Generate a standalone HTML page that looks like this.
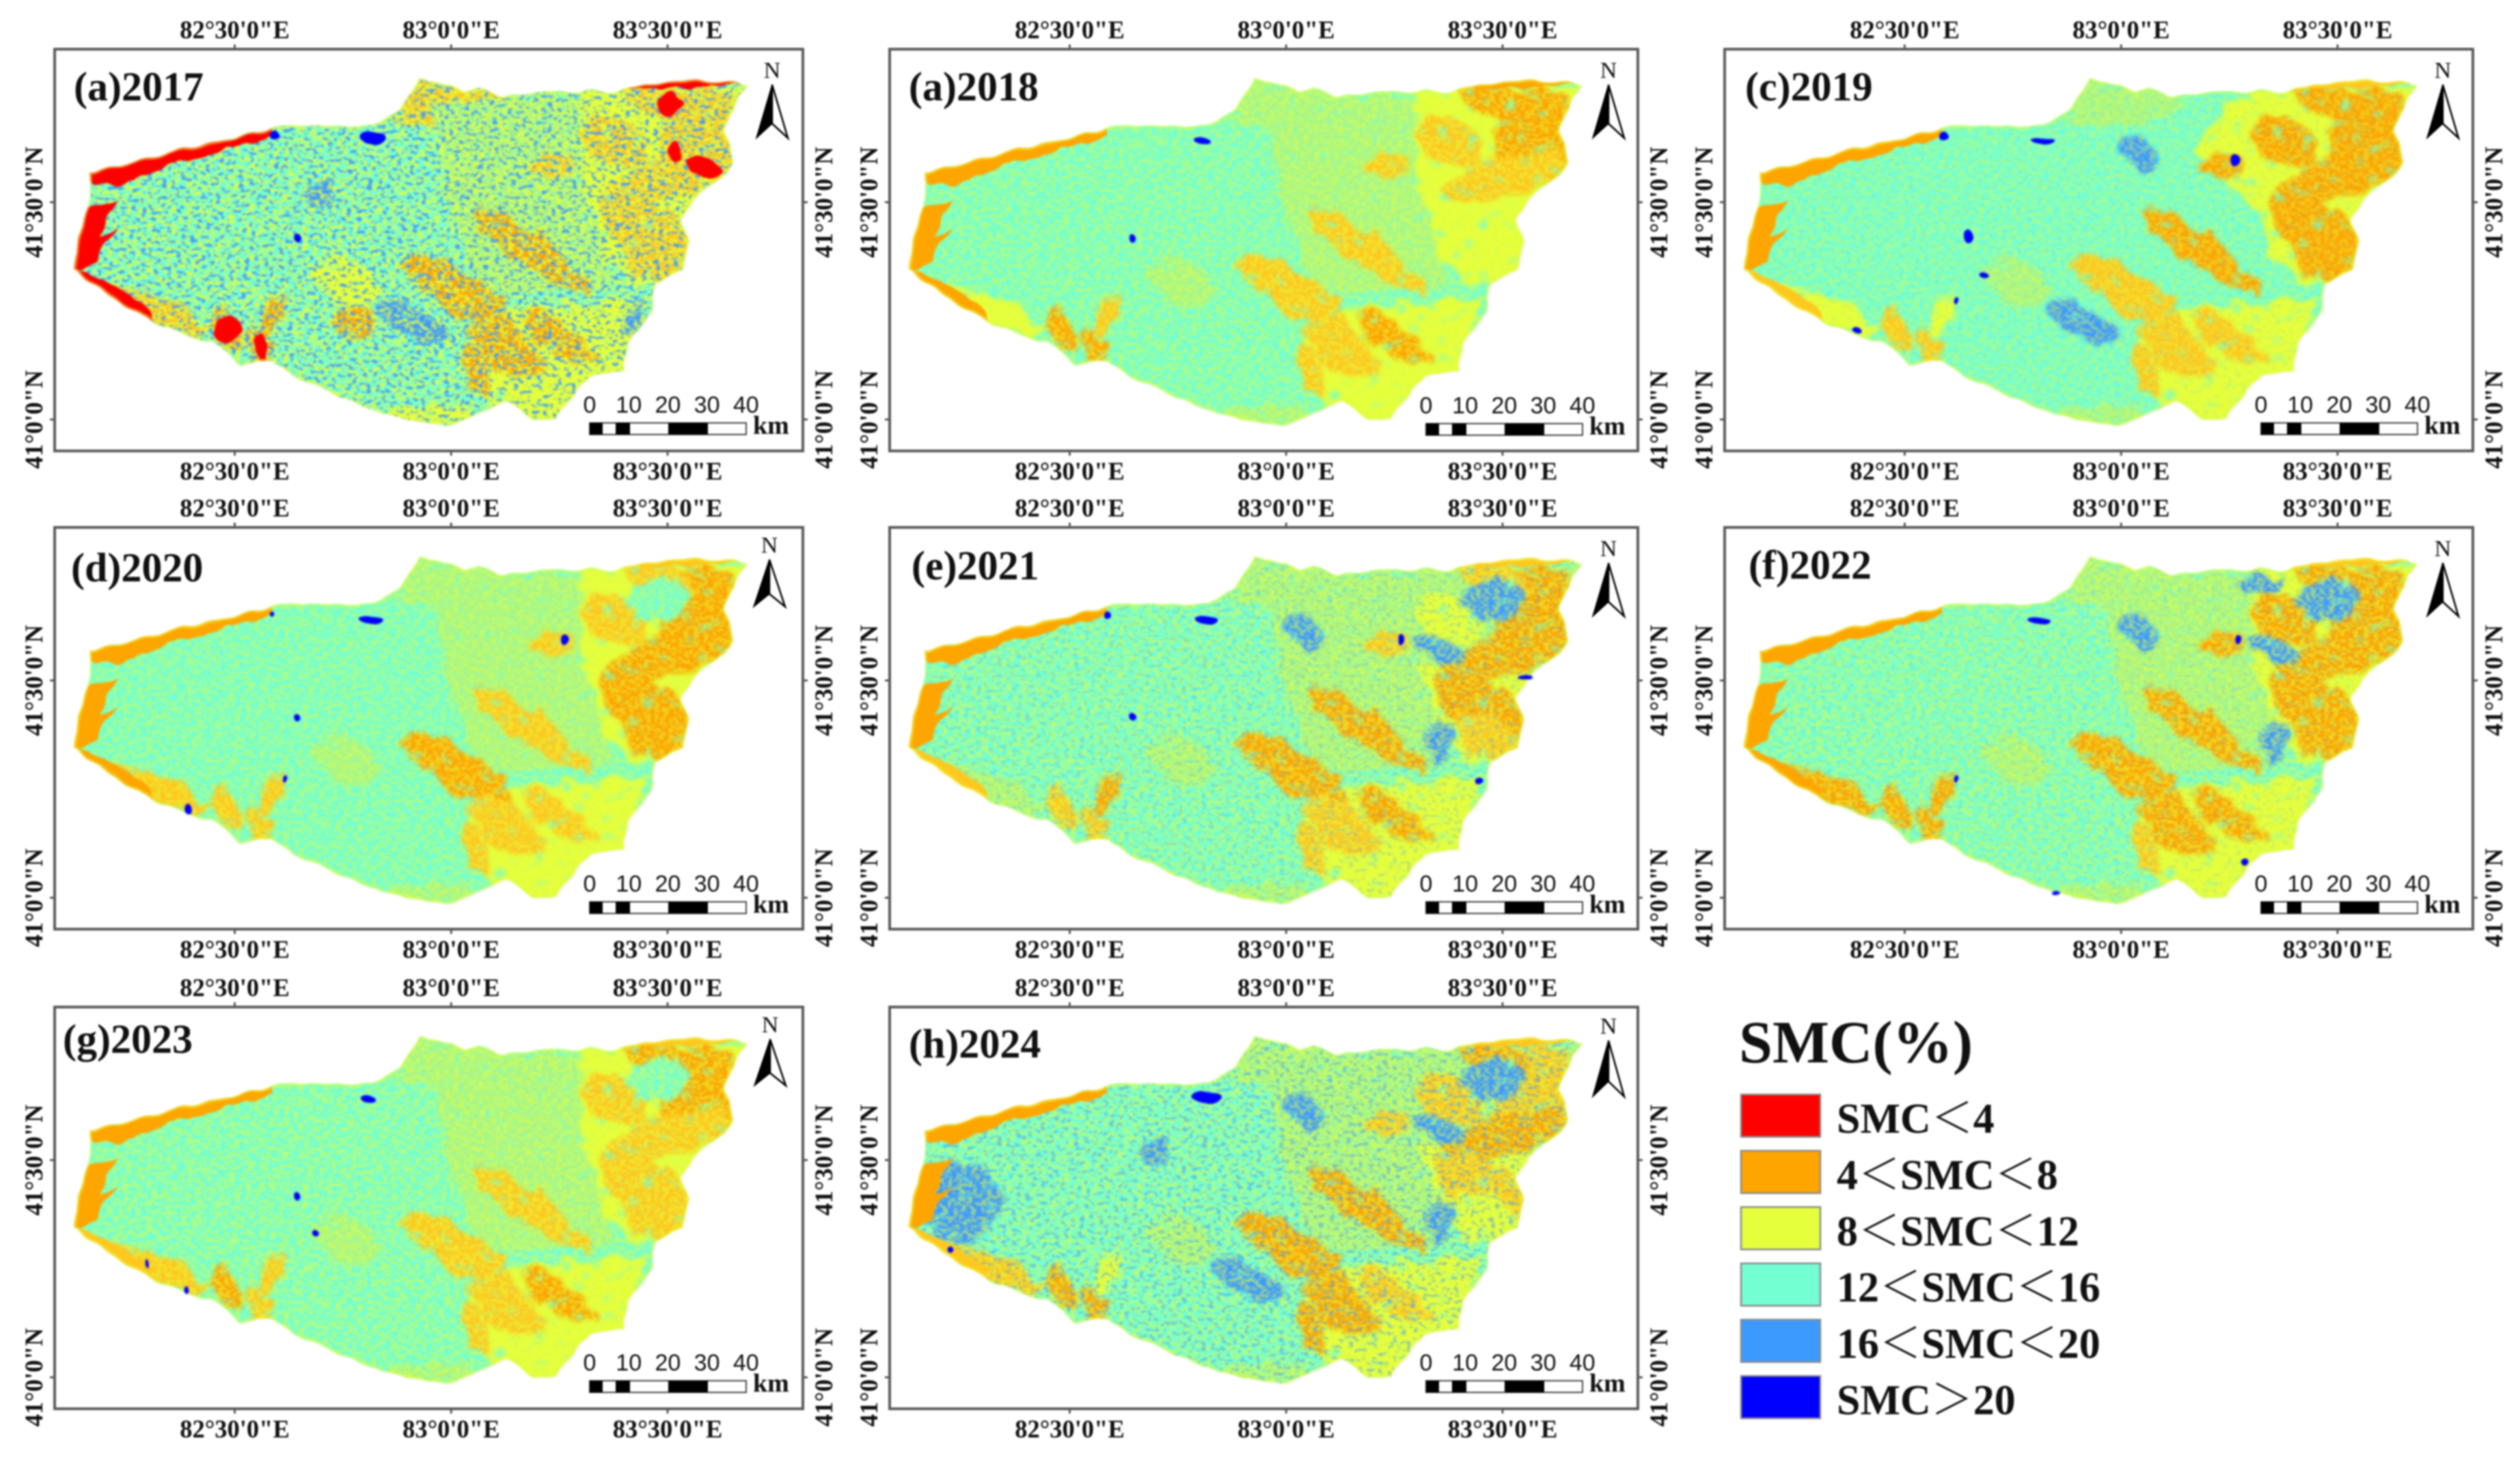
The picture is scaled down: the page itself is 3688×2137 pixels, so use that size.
<!DOCTYPE html>
<html lang="en">
<head>
<meta charset="utf-8">
<title>SMC maps 2017-2024</title>
<style>
html,body{margin:0;padding:0;background:#fff;width:3688px;height:2137px;overflow:hidden}
#figure{display:block;width:3688px;height:2137px}
text{font-family:"Liberation Serif","Noto Serif CJK SC",serif;fill:#111}
</style>
</head>
<body>
<svg id="figure" xmlns="http://www.w3.org/2000/svg" width="3688" height="2137" viewBox="0 0 3688 2137">
<defs>
<filter id="soft" filterUnits="userSpaceOnUse" x="-110" y="-90" width="1330" height="800" color-interpolation-filters="sRGB">
<feGaussianBlur stdDeviation="1.4"/>
</filter>
<filter id="softLegend" filterUnits="userSpaceOnUse" x="2500" y="1450" width="700" height="660" color-interpolation-filters="sRGB">
<feGaussianBlur stdDeviation="1.4"/>
</filter>
<filter id="edge" filterUnits="userSpaceOnUse" x="20" y="30" width="1005" height="550" color-interpolation-filters="sRGB">
<feTurbulence type="fractalNoise" baseFrequency="0.035" numOctaves="1" seed="5" result="n"/>
<feDisplacementMap in="SourceGraphic" in2="n" scale="12" xChannelSelector="R" yChannelSelector="G"/>
<feGaussianBlur stdDeviation="1.7"/>
</filter>
<filter id="rough" filterUnits="userSpaceOnUse" x="20" y="30" width="1005" height="550" color-interpolation-filters="sRGB">
<feTurbulence type="fractalNoise" baseFrequency="0.03" numOctaves="2" seed="9" result="n"/>
<feDisplacementMap in="SourceGraphic" in2="n" scale="34" xChannelSelector="R" yChannelSelector="G" result="d"/>
<feTurbulence type="fractalNoise" baseFrequency="0.05 0.08" numOctaves="1" seed="21"/>
<feColorMatrix type="matrix" values="0 0 0 0 0  0 0 0 0 0  0 0 0 0 0  6 0 0 0 -1.4" result="m"/>
<feComposite in="d" in2="m" operator="in"/>
<feGaussianBlur stdDeviation="3"/>
</filter>
<filter id="firm" filterUnits="userSpaceOnUse" x="20" y="30" width="1005" height="550" color-interpolation-filters="sRGB">
<feTurbulence type="fractalNoise" baseFrequency="0.05" numOctaves="1" seed="11" result="n"/>
<feDisplacementMap in="SourceGraphic" in2="n" scale="14" xChannelSelector="R" yChannelSelector="G"/>
</filter>
<filter id="speckleYellow" filterUnits="userSpaceOnUse" x="20" y="30" width="1005" height="550" color-interpolation-filters="sRGB">
<feTurbulence type="fractalNoise" baseFrequency="0.14 0.2" numOctaves="2" seed="3" stitchTiles="stitch" x="20" y="30" width="300" height="300"/>
<feColorMatrix type="matrix" values="0 0 0 0 0.9  0 0 0 0 1  0 0 0 0 0.24  7 0 0 0 -3.1" x="20" y="30" width="300" height="300"/>
<feTile x="20" y="30" width="1005" height="550"/>
</filter>
<filter id="speckleBlue" filterUnits="userSpaceOnUse" x="20" y="30" width="1005" height="550" color-interpolation-filters="sRGB">
<feTurbulence type="fractalNoise" baseFrequency="0.14 0.2" numOctaves="2" seed="14" stitchTiles="stitch" x="20" y="30" width="300" height="300"/>
<feColorMatrix type="matrix" values="0 0 0 0 0.24  0 0 0 0 0.6  0 0 0 0 1  0 9 0 0 -5.0" x="20" y="30" width="300" height="300"/>
<feTile x="20" y="30" width="1005" height="550"/>
</filter>
<clipPath id="basinClip"><polygon id="basinClipShape" points="0,0"/></clipPath>
</defs>
</svg>
<script>
// Axis ticks
const lonTicks = [82.5, 83, 83.5];
const lonTickLabels = ["82°30'0\"E", "83°0'0\"E", "83°30'0\"E"];
const latTicks = [41.5, 41];
const latTickLabels = ["41°30'0\"N", "41°0'0\"N"];
const scaleLabels = ["0", "10", "20", "30", "40"];

// Study-area boundary, lon/lat pairs
const basinOutline = [[82.165,41.570],[82.587,41.670],[82.637,41.678],[82.713,41.675],[82.788,41.673],[82.839,41.688],[82.883,41.717],[82.895,41.742],[82.927,41.785],[82.952,41.774],[83.003,41.771],[83.028,41.756],[83.065,41.764],[83.116,41.745],[83.217,41.753],[83.317,41.755],[83.380,41.756],[83.443,41.771],[83.569,41.784],[83.683,41.772],[83.657,41.720],[83.632,41.662],[83.651,41.590],[83.620,41.554],[83.557,41.504],[83.531,41.460],[83.550,41.410],[83.531,41.345],[83.469,41.309],[83.462,41.244],[83.406,41.171],[83.399,41.114],[83.317,41.099],[83.267,41.034],[83.242,41.002],[83.191,40.998],[83.128,41.042],[83.065,41.013],[82.990,40.984],[82.902,40.998],[82.839,41.013],[82.738,41.056],[82.637,41.099],[82.587,41.135],[82.511,41.128],[82.448,41.179],[82.373,41.197],[82.285,41.236],[82.196,41.294],[82.127,41.345],[82.140,41.417],[82.159,41.489],[82.165,41.532]];

// Geographic zones: polygons as lon/lat, ellipses as lon, lat, radii in degrees, rotation
const zoneNames = ["ne-plain","east-plain","se-plain","north-peak","sw-rim","south-rim","east-central","mid-fan","north-strip","west-strip","sw-strip","south-patch-a","south-patch-b","south-patch-c","ne-core","ne-upper","ne-lower","ne-mid","lake-area","east-mass","east-lower","band-upper","band-lower","band-se","band-sse","band-south","mid-orange","wet-central","wet-upper","wet-west","ne-pocket","wet-east","wet-ne","wet-north","wet-mid","wet-se","dry-ne-a","dry-ne-b","dry-ne-c","dry-south-a","dry-south-b","ne-rim"];
const zoneShapes = [
 {p:[[83.267,41.749],[83.683,41.778],[83.651,41.583],[83.557,41.504],[83.267,41.532],[83.166,41.619]]},
 {p:[[83.280,41.532],[83.569,41.518],[83.557,41.352],[83.469,41.301],[83.343,41.374]]},
 {p:[[83.053,41.244],[83.456,41.280],[83.418,41.114],[83.254,40.998],[83.166,41.005],[83.091,41.027],[83.040,41.135]]},
 {p:[[82.860,41.690],[82.927,41.790],[83.116,41.750],[83.153,41.715],[82.952,41.660]]},
 {p:[[82.196,41.320],[82.373,41.270],[82.448,41.205],[82.385,41.190],[82.285,41.236]]},
 {e:[82.952,41.005,0.10,0.03,0]},
 {p:[[82.95,41.72],[83.30,41.75],[83.30,41.52],[83.38,41.30],[83.08,41.30],[83.00,41.45]]},
 {e:[82.763,41.316,0.08,0.05,30]},
 {solid:1,p:[[82.159,41.572],[82.373,41.626],[82.587,41.671],[82.587,41.652],[82.461,41.616],[82.335,41.582],[82.270,41.545],[82.165,41.540]]},
 {solid:1,p:[[82.165,41.489],[82.234,41.504],[82.200,41.460],[82.190,41.417],[82.228,41.435],[82.178,41.366],[82.146,41.341],[82.115,41.345],[82.134,41.446]]},
 {solid:1,p:[[82.140,41.341],[82.196,41.323],[82.285,41.265],[82.316,41.222],[82.259,41.233],[82.184,41.291],[82.121,41.338]]},
 {e:[82.480,41.204,0.055,0.03,60]},
 {e:[82.555,41.164,0.05,0.025,65]},
 {e:[82.587,41.244,0.05,0.025,-70]},
 {e:[83.582,41.655,0.10,0.11,0]},
 {e:[83.481,41.735,0.09,0.04,25]},
 {e:[83.506,41.561,0.14,0.045,-15]},
 {e:[83.380,41.641,0.08,0.05,30]},
 {e:[83.229,41.583,0.045,0.03,0]},
 {e:[83.456,41.439,0.13,0.06,30]},
 {e:[83.469,41.366,0.09,0.045,40]},
 {e:[83.179,41.392,0.16,0.04,35]},
 {e:[83.015,41.294,0.15,0.05,30]},
 {e:[83.254,41.182,0.10,0.035,35]},
 {e:[83.128,41.164,0.10,0.05,40]},
 {e:[83.059,41.106,0.07,0.025,70]},
 {e:[82.776,41.222,0.05,0.04,0]},
 {e:[82.91,41.225,0.08,0.04,25]},
 {e:[83.040,41.612,0.05,0.025,45]},
 {e:[82.247,41.403,0.10,0.09,0]},
 {e:[83.481,41.684,0.07,0.055,0]},
 {e:[83.355,41.359,0.03,0.06,0]},
 {e:[83.343,41.576,0.06,0.03,30]},
 {e:[83.317,41.720,0.045,0.025,0]},
 {e:[82.700,41.518,0.04,0.03,0]},
 {e:[83.431,41.229,0.025,0.05,0]},
 {solid:1,e:[83.506,41.727,0.03,0.025,0]},
 {solid:1,e:[83.582,41.583,0.045,0.022,20]},
 {solid:1,e:[83.519,41.612,0.016,0.024,0]},
 {solid:1,e:[82.486,41.208,0.03,0.035,45]},
 {solid:1,e:[82.562,41.164,0.016,0.035,0]},
 {solid:1,e:[83.54,41.775,0.15,0.012,-3]}
];

// Dominant class per zone, per year: 0 red,1 orange,2 yellow,3 aqua,4 light blue,5 blue,6 aqua-yellow blend,7 orange-yellow blend,-1 unchanged
const classes2017 = [2,2,2,7,7,2,6,2, 0,0,0,1,1,1, 7,7,7,7,7, 7,7,1,1,1,1,1,1, 4,-1,-1,-1,-1,-1,-1,4,4, 0,0,0,0,0, 0];
const classes2018 = [2,2,2,6,2,6,6,6, 1,1,1,1,1,7, 1,1,7,7,7, -1,-1,7,7,1,7,7,-1, -1,-1,-1,-1,-1,-1,-1,-1,-1, -1,-1,-1,-1,-1, 1];
const classes2019 = [2,2,2,6,2,6,-1,6, 1,1,7,7,7,2, 1,1,1,1,1, 1,1,1,7,7,7,7,-1, 4,4,-1,-1,-1,-1,-1,-1,-1, -1,-1,-1,-1,-1, 7];
const classes2020 = [2,2,2,6,7,6,6,6, 1,1,1,7,7,7, 1,7,1,7,7, 1,1,7,1,7,7,7,-1, -1,-1,-1,3,-1,-1,-1,-1,-1, -1,-1,-1,-1,-1, 7];
const classes2021 = [6,2,2,6,6,6,6,6, 1,1,7,7,7,1, 1,7,1,2,7, 1,7,1,1,1,7,7,-1, -1,4,-1,4,4,4,-1,-1,-1, -1,-1,-1,-1,-1, 7];
const classes2022 = [2,2,2,6,1,6,6,6, 1,1,1,1,1,1, 1,1,1,1,1, 1,1,1,1,1,1,7,-1, -1,4,-1,4,4,4,4,-1,-1, -1,-1,-1,-1,-1, 7];
const classes2023 = [2,2,2,6,7,6,6,6, 1,1,7,1,7,7, 1,1,7,7,6, 7,7,7,7,1,7,7,-1, -1,-1,-1,3,-1,-1,-1,-1,-1, -1,-1,-1,-1,-1, 7];
const classes2024 = [6,2,2,6,7,6,6,6, 1,1,7,1,1,2, 7,1,1,7,7, 7,2,1,1,7,1,1,-1, 4,4,4,4,4,4,-1,4,-1, -1,-1,-1,-1,-1, 7];

// Water bodies (SMC>20) per year: lon, lat, radii in degrees
const lakes2017 = [[82.820,41.650,0.030,0.015],[82.593,41.654,0.012,0.010],[82.647,41.418,0.008,0.008]];
const lakes2018 = [[82.805,41.643,0.018,0.008],[82.647,41.417,0.007,0.008]];
const lakes2019 = [[82.591,41.652,0.012,0.010],[82.819,41.643,0.028,0.007],[82.649,41.421,0.010,0.013],[82.685,41.334,0.009,0.006],[83.262,41.597,0.010,0.015],[82.389,41.205,0.012,0.007],[82.618,41.273,0.005,0.008]];
const lakes2020 = [[82.814,41.641,0.028,0.009],[82.646,41.415,0.007,0.007],[83.261,41.594,0.008,0.013],[82.392,41.204,0.009,0.012],[82.615,41.273,0.005,0.008],[82.587,41.653,0.006,0.006]];
const lakes2021 = [[82.588,41.650,0.009,0.009],[82.815,41.641,0.026,0.010],[82.647,41.417,0.008,0.007],[83.264,41.594,0.006,0.014],[83.554,41.509,0.018,0.006],[83.445,41.267,0.009,0.007]];
const lakes2022 = [[82.809,41.639,0.026,0.008],[83.268,41.594,0.006,0.012],[83.287,41.081,0.009,0.008],[82.618,41.273,0.005,0.008],[82.851,41.009,0.010,0.004]];
const lakes2023 = [[82.807,41.642,0.016,0.009],[82.646,41.417,0.007,0.008],[82.388,41.200,0.006,0.009],[82.297,41.258,0.004,0.012],[82.688,41.334,0.006,0.007]];
const lakes2024 = [[82.817,41.646,0.035,0.014],[82.225,41.292,0.006,0.008]];

// Estimated speckle strength per year (order 2017..2024)
const yellowSpeckle = [0.8, 0.5, 0.4, 0.48, 0.55, 0.55, 0.55, 0.55];
const blueSpeckle = [0.95, 0.03, 0.10, 0.04, 0.28, 0.16, 0.05, 0.55];

// Legend
const legendLabels = ["SMC＜4", "4＜SMC＜8", "8＜SMC＜12", "12＜SMC＜16", "16＜SMC＜20", "SMC＞20"];
const legendClasses = [0, 1, 2, 3, 4, 5];

const palette = ["#ff0000", "#ffa500", "#e6ff3c", "#73ffd2", "#3c9aff", "#0000ff", "#a5f78c", "#ffc81e"];

const SVG_NS = "http://www.w3.org/2000/svg";
const root = document.getElementById("figure");
const FRAME_W = 1095, FRAME_H = 588;

function lonX(lon) { return 263.5 + (lon - 82.5) * 633.5; }
function latY(lat) { return 224 + (41.5 - lat) * 636; }
function pointsOf(list) { return list.map(function (q) { return lonX(q[0]).toFixed(1) + "," + latY(q[1]).toFixed(1); }).join(" "); }

function make(tag, attrs, parent) {
  const node = document.createElementNS(SVG_NS, tag);
  for (const key in attrs) node.setAttribute(key, attrs[key]);
  parent.appendChild(node);
  return node;
}
function label(str, x, y, size, weight, anchor, parent, rotate) {
  const attrs = { x: x, y: y, "font-size": size, "font-weight": weight, "text-anchor": anchor };
  if (rotate) attrs.transform = "rotate(" + rotate + " " + x + " " + y + ")";
  const node = make("text", attrs, parent);
  node.textContent = str;
  return node;
}

document.getElementById("basinClipShape").setAttribute("points", pointsOf(basinOutline));

function drawPanel(o) {
  const g = make("g", { transform: "translate(" + o.x + "," + o.y + ")" }, root);
  
  

  // Map raster approximation
  const edgeGroup = make("g", { filter: "url(#edge)" }, g);
  
  
  const clipped = make("g", { "clip-path": "url(#basinClip)" }, edgeGroup);
  make("rect", { x: 0, y: 0, width: FRAME_W, height: FRAME_H, fill: palette[3] }, clipped);

  const patchyGroup = make("g", { filter: "url(#rough)" }, clipped);
  make("rect", { x: 0, y: 0, width: FRAME_W, height: FRAME_H, fill: "#fff", filter: "url(#speckleYellow)", opacity: o.yellow }, clipped);
  make("rect", { x: 0, y: 0, width: FRAME_W, height: FRAME_H, fill: "#fff", filter: "url(#speckleBlue)", opacity: o.blue }, clipped);
  const firmGroup = make("g", { filter: "url(#firm)" }, clipped);
  o.classes.forEach(function (cls, i) {
    if (cls < 0) return;
    const shape = zoneShapes[i];
    const zoneGroup = shape.solid ? firmGroup : patchyGroup;
    let mark;
    if (shape.p) {
      mark = make("polygon", { points: pointsOf(shape.p), fill: palette[cls] }, zoneGroup);
    } else {
      const cx = lonX(shape.e[0]), cy = latY(shape.e[1]);
      mark = make("ellipse", { cx: cx, cy: cy, rx: shape.e[2] * 633.5, ry: shape.e[3] * 636, fill: palette[cls], transform: "rotate(" + shape.e[4] + " " + cx + " " + cy + ")" }, zoneGroup);
    }
    
    
  });
  make("polygon", { points: pointsOf(basinOutline), fill: "none", stroke: palette[2], "stroke-width": 6, opacity: 0.5 }, clipped);

  o.lakes.forEach(function (l) {
    const lake = make("ellipse", { cx: lonX(l[0]), cy: latY(l[1]), rx: l[2] * 633.5, ry: l[3] * 636, fill: palette[5] }, edgeGroup);
    
    
  });

  // Frame, ticks, labels, arrow and scale bar share one soft layer
  const ink = make("g", { filter: "url(#soft)" }, g);
  
  

  const frame = make("rect", { x: 0, y: 0, width: FRAME_W, height: FRAME_H, fill: "none", stroke: "#5a5a5a", "stroke-width": 4 }, ink);
  
  

  // Longitude ticks, both sides
  lonTicks.forEach(function (lon, i) {
    const x = lonX(lon);
    make("line", { x1: x, x2: x, y1: -7, y2: 0, stroke: "#5a5a5a", "stroke-width": 3 }, ink);
    make("line", { x1: x, x2: x, y1: FRAME_H, y2: FRAME_H + 7, stroke: "#5a5a5a", "stroke-width": 3 }, ink);
    const top = label(lonTickLabels[i], x, -16, 36.5, "bold", "middle", ink);
    
    
    const bottom = label(lonTickLabels[i], x, FRAME_H + 42, 36.5, "bold", "middle", ink);
    
    
  });
  // Latitude ticks, both sides
  latTicks.forEach(function (lat, i) {
    const y = latY(lat);
    make("line", { x1: -7, x2: 0, y1: y, y2: y, stroke: "#5a5a5a", "stroke-width": 3 }, ink);
    make("line", { x1: FRAME_W, x2: FRAME_W + 7, y1: y, y2: y, stroke: "#5a5a5a", "stroke-width": 3 }, ink);
    const left = label(latTickLabels[i], -18, y, 36.5, "bold", "middle", ink, -90);
    
    
    const right = label(latTickLabels[i], FRAME_W + 43, y, 36.5, "bold", "middle", ink, -90);
    
    
  });

  // Panel title
  const title = label(o.title, o.titleX, o.titleY, 60, "bold", "start", ink);
  
  

  // North arrow
  const north = make("g", {}, ink);
  
  
  const nMark = label("N", o.arrowX, o.arrowTop - 10, 34, "normal", "middle", north);
  
  
  const notch = o.arrowBot - (o.arrowBot - o.arrowTop) * 0.27;
  make("polygon", { points: o.arrowX + "," + o.arrowTop + " " + (o.arrowX - 23) + "," + o.arrowBot + " " + o.arrowX + "," + notch, fill: "#000", stroke: "#000", "stroke-width": 1.5 }, north);
  make("polygon", { points: o.arrowX + "," + o.arrowTop + " " + (o.arrowX + 23) + "," + o.arrowBot + " " + o.arrowX + "," + notch, fill: "#fff", stroke: "#000", "stroke-width": 2.5 }, north);

  // Scale bar
  const bar = make("g", { transform: "translate(" + o.barX + "," + o.barY + ")" }, ink);
  
  
  make("rect", { x: 0, y: 0, width: 229, height: 17, fill: "#fff", stroke: "#444", "stroke-width": 2 }, bar);
  make("rect", { x: 0, y: 0, width: 19, height: 17, fill: "#000" }, bar);
  make("rect", { x: 38, y: 0, width: 21, height: 17, fill: "#000" }, bar);
  make("rect", { x: 115, y: 0, width: 58, height: 17, fill: "#000" }, bar);
  scaleLabels.forEach(function (s, i) {
    const t = make("text", { x: i * 57.2, y: -15, "font-size": 34, "text-anchor": "middle", style: 'font-family:"Liberation Sans",sans-serif' }, bar);
    t.textContent = s;
    
    
  });
  const km = label("km", 239, 16, 38, "bold", "start", bar);
  
  
}

const C1 = 80, C2 = 1302, C3 = 2524, R1 = 72, R2 = 772, R3 = 1474;
drawPanel({ year: 2017, title: "(a)2017", x: C1, y: R1, titleX: 28, titleY: 75, arrowX: 1050, arrowTop: 52, arrowBot: 130, barX: 783, barY: 547, classes: classes2017, lakes: lakes2017, yellow: yellowSpeckle[0], blue: blueSpeckle[0] });
drawPanel({ year: 2018, title: "(a)2018", x: C2, y: R1, titleX: 28, titleY: 75, arrowX: 1052, arrowTop: 52, arrowBot: 130, barX: 785, barY: 548, classes: classes2018, lakes: lakes2018, yellow: yellowSpeckle[1], blue: blueSpeckle[1] });
drawPanel({ year: 2019, title: "(c)2019", x: C3, y: R1, titleX: 30, titleY: 75, arrowX: 1051, arrowTop: 52, arrowBot: 130, barX: 785, barY: 547, classes: classes2019, lakes: lakes2019, yellow: yellowSpeckle[2], blue: blueSpeckle[2] });
drawPanel({ year: 2020, title: "(d)2020", x: C1, y: R2, titleX: 24, titleY: 79, arrowX: 1046, arrowTop: 47, arrowBot: 116, barX: 783, barY: 548, classes: classes2020, lakes: lakes2020, yellow: yellowSpeckle[3], blue: blueSpeckle[3] });
drawPanel({ year: 2021, title: "(e)2021", x: C2, y: R2, titleX: 32, titleY: 76, arrowX: 1052, arrowTop: 52, arrowBot: 130, barX: 785, barY: 548, classes: classes2021, lakes: lakes2021, yellow: yellowSpeckle[4], blue: blueSpeckle[4] });
drawPanel({ year: 2022, title: "(f)2022", x: C3, y: R2, titleX: 35, titleY: 75, arrowX: 1051, arrowTop: 52, arrowBot: 130, barX: 785, barY: 548, classes: classes2022, lakes: lakes2022, yellow: yellowSpeckle[5], blue: blueSpeckle[5] });
drawPanel({ year: 2023, title: "(g)2023", x: C1, y: R3, titleX: 12, titleY: 67, arrowX: 1047, arrowTop: 47, arrowBot: 115, barX: 783, barY: 547, classes: classes2023, lakes: lakes2023, yellow: yellowSpeckle[6], blue: blueSpeckle[6] });
drawPanel({ year: 2024, title: "(h)2024", x: C2, y: R3, titleX: 28, titleY: 74, arrowX: 1052, arrowTop: 49, arrowBot: 131, barX: 785, barY: 547, classes: classes2024, lakes: lakes2024, yellow: yellowSpeckle[7], blue: blueSpeckle[7] });

// Legend
const legend = make("g", { filter: "url(#softLegend)" }, root);


const legendTitle = label("SMC(%)", 2545, 1555, 88, "bold", "start", legend);


legendLabels.forEach(function (str, i) {
  const top = 1602 + i * 82.4;
  const swatch = make("rect", { x: 2548, y: top, width: 116, height: 62, fill: palette[legendClasses[i]], stroke: "#8a8a8a", "stroke-width": 2.5 }, legend);
  
  
  const entry = label(str, 2688, top + 56, 62, "bold", "start", legend);
  
  
});
</script>
</body>
</html>
